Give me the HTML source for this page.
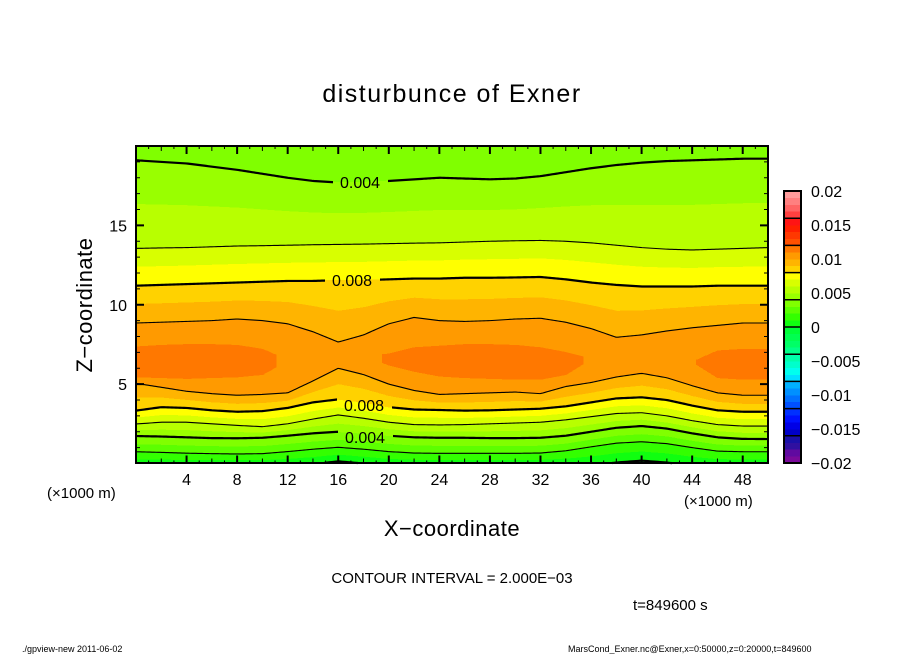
<!DOCTYPE html>
<html><head><meta charset="utf-8">
<style>
html,body{margin:0;padding:0;background:#fff;}
svg{display:block;}
text{font-family:"Liberation Sans",sans-serif;fill:#000;}
</style></head>
<body>
<svg id="chart" width="904" height="654" viewBox="0 0 904 654" xmlns="http://www.w3.org/2000/svg">
  <text x="452" y="102" text-anchor="middle" font-size="25" letter-spacing="1.5">disturbunce of Exner</text>
  <g id="fills"></g>
  <g id="lines" mask="url(#labelMask)"></g>
  <defs>
    <mask id="labelMask" maskUnits="userSpaceOnUse" x="0" y="0" width="904" height="654">
      <rect x="0" y="0" width="904" height="654" fill="#fff"/>
      <rect x="333" y="173" width="55" height="18" fill="#000"/>
      <rect x="325" y="271" width="55" height="18" fill="#000"/>
      <rect x="337" y="396" width="55" height="18" fill="#000"/>
      <rect x="338" y="428" width="55" height="18" fill="#000"/>
    </mask>
  </defs>
  <g font-size="16">
    <text x="360" y="188" text-anchor="middle">0.004</text>
    <text x="352" y="286" text-anchor="middle">0.008</text>
    <text x="364" y="411" text-anchor="middle">0.008</text>
    <text x="365" y="443" text-anchor="middle">0.004</text>
  </g>
  <g id="ticks"></g>
  <rect x="136" y="146" width="632" height="317" fill="none" stroke="#000" stroke-width="2"/>
  <g id="ylabels" font-size="16"></g>
  <g id="xlabels" font-size="16"></g>
  <text transform="translate(92,305) rotate(-90)" text-anchor="middle" font-size="22" letter-spacing="0.5">Z−coordinate</text>
  <text x="452" y="536" text-anchor="middle" font-size="22" letter-spacing="0.5">X−coordinate</text>
  <text x="47" y="498" font-size="15">(×1000 m)</text>
  <text x="684" y="506" font-size="15">(×1000 m)</text>
  <text x="452" y="583" text-anchor="middle" font-size="15">CONTOUR INTERVAL = 2.000E−03</text>
  <text x="633" y="610" font-size="15">t=849600 s</text>
  <text x="22" y="652" font-size="9">./gpview-new   2011-06-02</text>
  <text x="568" y="652" font-size="9">MarsCond_Exner.nc@Exner,x=0:50000,z=0:20000,t=849600</text>
  <g id="colorbar"></g>
  <g id="cblabels" font-size="16"></g>
</svg>
<script>
// ---- data (x in km every 2 km; heights of contour levels in km) ----
const xKm = [0,2,4,6,8,10,12,14,16,18,20,22,24,26,28,30,32,34,36,38,40,42,44,46,48,50];
const surfaceVal = [0.0004,0.0004,0.0004,0.0004,0.0004,0.0004,0.0003,0.0001,-0.0003,0.0000,0.0003,0.0004,0.0004,0.0004,0.0004,0.0004,0.0004,0.0003,0.0002,-0.0001,-0.0003,-0.0001,0.0002,0.0004,0.0004,0.0004];
const low002 = [0.74,0.7,0.65,0.62,0.6,0.62,0.75,0.9,1.02,0.9,0.75,0.66,0.64,0.64,0.64,0.64,0.66,0.8,1.05,1.28,1.37,1.25,1.0,0.78,0.74,0.74];
const low004 = [1.73,1.7,1.65,1.6,1.59,1.62,1.75,1.9,2.0,1.9,1.75,1.65,1.62,1.62,1.6,1.6,1.62,1.75,2.0,2.25,2.36,2.2,1.9,1.65,1.55,1.54];
const low006 = [2.49,2.6,2.6,2.5,2.4,2.32,2.5,2.8,3.06,2.85,2.6,2.45,2.43,2.45,2.5,2.55,2.6,2.75,2.95,3.15,3.2,3.0,2.7,2.45,2.36,2.36];
const low008 = [3.33,3.55,3.5,3.35,3.26,3.3,3.5,3.85,4.04,3.85,3.55,3.4,3.37,3.33,3.35,3.4,3.45,3.6,3.85,4.1,4.17,4.0,3.65,3.35,3.26,3.26];
const low010 = [5.05,4.8,4.55,4.4,4.3,4.35,4.45,5.2,6.0,5.6,5.0,4.6,4.35,4.4,4.45,4.5,4.4,4.85,5.1,5.45,5.68,5.4,4.9,4.45,4.3,4.3];
const peakZ = [6.3,6.3,6.4,6.4,6.4,6.4,6.5,6.7,6.8,6.8,6.6,6.5,6.45,6.4,6.4,6.4,6.3,6.3,6.6,6.8,6.9,6.8,6.4,6.25,6.25,6.25];
const peakVal = [0.0117,0.0117,0.0117,0.0117,0.0117,0.0115,0.0106,0.0104,0.0104,0.0105,0.0112,0.0116,0.0117,0.0117,0.0117,0.0117,0.0116,0.0114,0.0108,0.0106,0.0106,0.0107,0.0109,0.0115,0.0117,0.0117];
const core011Lo = [5.45,5.4,5.35,5.4,5.45,5.6,6.5,6.7,6.8,6.8,6.2,5.8,5.5,5.4,5.35,5.3,5.3,5.6,6.6,6.8,6.9,6.8,6.4,5.4,5.3,5.3];
const core011Hi = [7.35,7.45,7.5,7.5,7.45,7.2,6.5,6.7,6.8,6.8,6.9,7.3,7.4,7.5,7.5,7.45,7.3,7.0,6.6,6.8,6.9,6.8,6.4,7.1,7.2,7.2];
const up010 = [8.85,8.9,8.95,9.0,9.1,9.0,8.8,8.3,7.65,8.1,8.8,9.2,9.0,8.95,9.0,9.1,9.15,8.9,8.5,7.95,8.1,8.35,8.55,8.7,8.85,8.85];
const up008 = [11.2,11.25,11.3,11.35,11.4,11.45,11.5,11.5,11.55,11.55,11.6,11.65,11.65,11.7,11.7,11.72,11.75,11.6,11.4,11.25,11.15,11.15,11.15,11.2,11.2,11.2];
const up006 = [13.55,13.58,13.6,13.65,13.7,13.72,13.75,13.78,13.8,13.82,13.85,13.88,13.9,13.95,14.0,14.03,14.05,14.0,13.9,13.75,13.6,13.5,13.45,13.5,13.55,13.6];
const up004 = [19.1,19.0,18.9,18.7,18.5,18.25,18.0,17.8,17.7,17.72,17.8,17.9,18.0,17.95,17.9,17.95,18.1,18.35,18.6,18.8,18.95,19.05,19.1,19.15,19.2,19.2];
const topVal = [0.0035,0.0035,0.0035,0.0035,0.0035,0.0035,0.0035,0.0035,0.0035,0.0035,0.0035,0.0035,0.0035,0.0035,0.0035,0.0035,0.0035,0.0035,0.0035,0.0035,0.0035,0.0035,0.0035,0.0035,0.0035,0.0035];
const lineLevels = [0, 0.002, 0.004, 0.006, 0.008, 0.010];
const bandColors = ["#7a0a9a","#600aa0","#3010a0","#1a10a8","#0000c8","#0000e6","#0010ff","#0030ff","#0050ff","#0070ff","#0090ff","#00b0ff","#00e0ff","#00ffee","#00ffcc","#00ffaa","#00ff88","#00ff66","#00ff50","#00ff38","#10ff10","#33ff00","#5cff00","#80ff00","#99ff00","#b8ff00","#d8ff00","#ffff00","#ffd200","#ffb400","#ff9a00","#ff7800","#ff5000","#ff3800","#ff2000","#ff1414","#ff4040","#ff6464","#ff8080","#ff9c9c"];
const cbTickVals = [0.02,0.015,0.01,0.005,0,-0.005,-0.01,-0.015,-0.02];
const cbTickText = ["0.02","0.015","0.01","0.005","0","−0.005","−0.01","−0.015","−0.02"];
const xTickVals = [4,8,12,16,20,24,28,32,36,40,44,48];
const yTickVals = [5,10,15];

// ---- axes ----
const NS = "http://www.w3.org/2000/svg";
const X0=136, X1=768, Y0=463.5, Y1=146;
const xScale = km => X0 + (km/50)*(X1-X0);
const zScale = z => Y0 - (z/20)*(Y0-Y1);
const CB_TOP=191, CB_BOT=463, CB_X=784, CB_W=17;
const cbScale = v => CB_BOT - (v+0.02)/0.04*(CB_BOT-CB_TOP);
const STEP = 0.001;

function mk(tag, attrs, parent){
  const e = document.createElementNS(NS, tag);
  for (const k in attrs) e.setAttribute(k, attrs[k]);
  parent.appendChild(e); return e;
}
function interpArr(arr, km){
  let i = Math.floor(km/2); if (i>=arr.length-1) i = arr.length-2; if (i<0) i=0;
  const t = (km - xKm[i])/(xKm[i+1]-xKm[i]);
  return arr[i]*(1-t) + arr[i+1]*t;
}
function profile(km){
  const pv = interpArr(peakVal,km), pz = interpArr(peakZ,km);
  const P = [
    [0, interpArr(surfaceVal,km)],
    [interpArr(low002,km), 0.002],
    [interpArr(low004,km), 0.004],
    [interpArr(low006,km), 0.006],
    [interpArr(low008,km), 0.008],
    [interpArr(low010,km), 0.010]
  ];
  let peakIdx;
  if (pv > 0.011){
    const lo = Math.min(interpArr(core011Lo,km), pz-0.01), hi = Math.max(interpArr(core011Hi,km), pz+0.01);
    P.push([lo, 0.011]); peakIdx = P.length; P.push([(lo+hi)/2, pv]); P.push([hi, 0.011]);
  } else { peakIdx = P.length; P.push([pz, pv]); }
  P.push([interpArr(up010,km), 0.010],[interpArr(up008,km), 0.008],[interpArr(up006,km), 0.006],[interpArr(up004,km), 0.004],[20, interpArr(topVal,km)]);
  P.peakIdx = peakIdx;
  return P;
}

// ---- filled bands ----
const fills = document.getElementById('fills');
const bandPaths = bandColors.map(()=> "");
const colW = 1;
for (let px = X0; px < X1; px += colW){
  const km = ((px + colW/2) - X0)/(X1-X0)*50;
  const P = profile(km);
  for (let s=0; s<P.length-1; s++){
    const [za,va] = P[s], [zb,vb] = P[s+1];
    if (zb <= za) continue;
    const lo = Math.min(va,vb), hi = Math.max(va,vb);
    const cuts = [];
    for (let k = Math.ceil(lo/STEP - 1e-9); k*STEP < hi - 1e-12; k++){
      const th = k*STEP; if (th<=lo + 1e-12) continue;
      cuts.push(za + (th-va)/(vb-va)*(zb-za));
    }
    cuts.sort((a,b)=> a-b);
    const pts = [za, ...cuts, zb];
    for (let j=0; j<pts.length-1; j++){
      const zm = (pts[j]+pts[j+1])/2;
      const vm = va + (zm-za)/(zb-za)*(vb-va);
      let b = Math.floor((vm+0.02)/STEP + 1e-9); b = Math.max(0, Math.min(bandColors.length-1, b));
      const yTop = zScale(pts[j+1]), yBot = zScale(pts[j]);
      bandPaths[b] += `M${px} ${(yTop-0.3).toFixed(2)}h${colW+0.4}V${(yBot+0.3).toFixed(2)}h${-(colW+0.4)}Z`;
    }
  }
}
bandPaths.forEach((d,i)=>{
  if (!d) return;
  const p = mk('path', {d:d, fill:bandColors[i], stroke:'none', 'shape-rendering':'crispEdges'}, fills);
  
  
});

// ---- contour lines ----
const linesG = document.getElementById('lines');
function crossing(P, L, branch){
  const rng = branch==='low' ? [0,P.peakIdx] : [P.peakIdx,P.length-1];
  for (let s=rng[0]; s<rng[1]; s++){
    const [za,va] = P[s], [zb,vb] = P[s+1];
    if ((va-L)*(vb-L) <= 0 && va!==vb){
      return za + (L-va)/(vb-va)*(zb-za);
    }
  }
  return null;
}
lineLevels.forEach(L=>{
  ['low','up'].forEach(br=>{
    let d = "", pen = false;
    for (let px = X0; px <= X1; px += 2){
      const km = (px-X0)/(X1-X0)*50;
      const z = crossing(profile(km), L, br);
      if (z===null || z<=0.02){ pen=false; continue; }
      d += (pen?'L':'M') + px + ' ' + zScale(z).toFixed(2);
      pen = true;
    }
    if (!d) return;
    const thick = Math.abs(Math.round(L/0.002)) % 2 === 0;
    const p = mk('path', {d:d, fill:'none', stroke:'#000', 'stroke-width': thick?2.2:1.1, 'stroke-linejoin':'round'}, linesG);
    
    
  });
});

// ---- ticks ----
const ticks = document.getElementById('ticks');
for (let k=1; k<50; k++){
  const x = xScale(k), len = (k%4===0) ? 8 : (k%2===0 ? 5 : 3);
  mk('line', {x1:x, x2:x, y1:Y0, y2:Y0-len, stroke:'#000', 'stroke-width': k%4===0?2:1}, ticks);
  mk('line', {x1:x, x2:x, y1:Y1, y2:Y1+len, stroke:'#000', 'stroke-width': k%4===0?2:1}, ticks);
}
for (let z=1; z<20; z++){
  const y = zScale(z), len = (z%5===0) ? 8 : 4;
  mk('line', {x1:X0, x2:X0+len, y1:y, y2:y, stroke:'#000', 'stroke-width': z%5===0?2:1}, ticks);
  mk('line', {x1:X1, x2:X1-len, y1:y, y2:y, stroke:'#000', 'stroke-width': z%5===0?2:1}, ticks);
}
const xl = document.getElementById('xlabels');
xTickVals.forEach(v=>{
  const t = mk('text', {x:xScale(v), y:485, 'text-anchor':'middle'}, xl);
  t.textContent = v;
  
  
});
const yl = document.getElementById('ylabels');
yTickVals.forEach(v=>{
  const t = mk('text', {x:127, y:zScale(v)+6, 'text-anchor':'end'}, yl);
  t.textContent = v;
  
  
});

// ---- colorbar ----
const cb = document.getElementById('colorbar');
bandColors.forEach((c,i)=>{
  const v0 = -0.02 + i*STEP, v1 = v0 + STEP;
  const r = mk('rect', {x:CB_X, y:cbScale(v1), width:CB_W, height:cbScale(v0)-cbScale(v1)+0.3, fill:c, 'shape-rendering':'crispEdges'}, cb);
  
  
});
for (let k=-4; k<=4; k++){
  const y = cbScale(k*0.004);
  mk('line', {x1:CB_X, x2:CB_X+CB_W, y1:y, y2:y, stroke:'#000', 'stroke-width':1.5}, cb);
}
mk('rect', {x:CB_X, y:CB_TOP, width:CB_W, height:CB_BOT-CB_TOP, fill:'none', stroke:'#000', 'stroke-width':2}, cb);
const cbl = document.getElementById('cblabels');
cbTickVals.forEach((v,i)=>{
  const t = mk('text', {x:811, y:cbScale(v)+6}, cbl);
  t.textContent = cbTickText[i];
  
  
});
</script>
</body></html>
